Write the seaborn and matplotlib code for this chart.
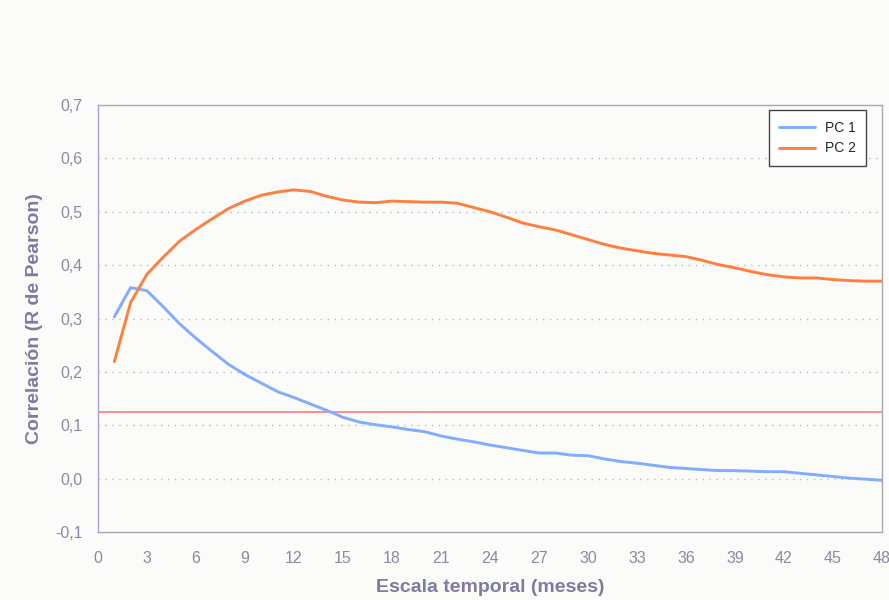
import matplotlib
matplotlib.use("Agg")
import matplotlib.pyplot as plt
import seaborn as sns
import pandas as pd

# Time scale in months
months = list(range(1, 49))

# Pearson correlation for each principal component
pc1 = [0.303, 0.358, 0.352, 0.322, 0.290, 0.263, 0.238, 0.214, 0.195, 0.179,
       0.163, 0.152, 0.140, 0.128, 0.115, 0.106, 0.101, 0.097, 0.092, 0.088,
       0.080, 0.074, 0.069, 0.063, 0.058, 0.053, 0.048, 0.048, 0.044, 0.043,
       0.037, 0.032, 0.029, 0.025, 0.021, 0.019, 0.017, 0.015, 0.015, 0.014,
       0.013, 0.013, 0.010, 0.007, 0.004, 0.001, -0.001, -0.003]
pc2 = [0.219, 0.330, 0.383, 0.415, 0.445, 0.467, 0.487, 0.506, 0.520, 0.531,
       0.537, 0.541, 0.538, 0.529, 0.522, 0.518, 0.517, 0.520, 0.519, 0.518,
       0.518, 0.516, 0.508, 0.500, 0.490, 0.479, 0.472, 0.466, 0.457, 0.448,
       0.439, 0.432, 0.427, 0.422, 0.419, 0.416, 0.409, 0.401, 0.395, 0.388,
       0.382, 0.378, 0.376, 0.376, 0.373, 0.371, 0.370, 0.370]

series_names = ["PC 1", "PC 2"]
threshold = 0.125

x_ticks = list(range(0, 49, 3))
y_ticks = [-0.1, 0.0, 0.1, 0.2, 0.3, 0.4, 0.5, 0.6, 0.7]
y_tick_labels = ["-0,1", "0,0", "0,1", "0,2", "0,3", "0,4", "0,5", "0,6", "0,7"]

df = pd.DataFrame({
    "mes": months * 2,
    "r": pc1 + pc2,
    "serie": [series_names[0]] * len(months) + [series_names[1]] * len(months),
})

sns.set_theme(style="white")
plt.rcParams["font.family"] = ["Liberation Sans", "DejaVu Sans"]

bg = "#fbfbf9"
fig = plt.figure(figsize=(8.89, 6.0), dpi=100, facecolor=bg)
ax = fig.add_axes([0.1102, 0.1133, 0.8818, 0.7117])
ax.set_facecolor(bg)

ax.axhline(threshold, color="#ff8585", lw=1.3, zorder=2)

sns.lineplot(data=df, x="mes", y="r", hue="serie",
             palette={"PC 1": "#82acff", "PC 2": "#ff7f3e"},
             linewidth=2.1, ax=ax, zorder=3)

ax.set_xlim(0, 48)
ax.set_ylim(-0.1, 0.7)
ax.set_xticks(x_ticks)
ax.set_yticks(y_ticks)
ax.set_yticklabels(y_tick_labels)

for y in y_ticks[1:-1]:
    ax.axhline(y, color="#b8b8b8", lw=1.0, ls=(0, (1, 4)), zorder=1)

tick_color = "#8a8aa6"
ax.tick_params(axis="both", direction="out", length=6, width=1,
               color="#a0a0a8", labelcolor=tick_color, labelsize=11.5, pad=5)
ax.tick_params(axis="x", pad=8)

for side in ["top", "right", "bottom"]:
    ax.spines[side].set_color("#a8a8b0")
    ax.spines[side].set_linewidth(1.0)
ax.spines["left"].set_color("#a79fd8")
ax.spines["left"].set_linewidth(1.0)

label_color = "#7c7ca2"
ax.set_xlabel("Escala temporal (meses)", fontsize=14, fontweight="bold",
              color=label_color, labelpad=9)
ax.set_ylabel("Correlación (R de Pearson)", fontsize=14, fontweight="bold",
              color=label_color, labelpad=9)

leg = ax.legend(loc="upper right", bbox_to_anchor=(0.98, 0.988), frameon=True,
                fancybox=False, fontsize=10, handlelength=2.6,
                borderpad=0.75, labelspacing=0.5, handletextpad=0.7,
                borderaxespad=0.0)
leg.get_frame().set_edgecolor("#444444")
leg.get_frame().set_linewidth(1.0)
leg.get_frame().set_facecolor("white")
leg.get_frame().set_alpha(1.0)
leg.set_title(None)

fig.savefig("out.png", dpi=100, facecolor=bg)
